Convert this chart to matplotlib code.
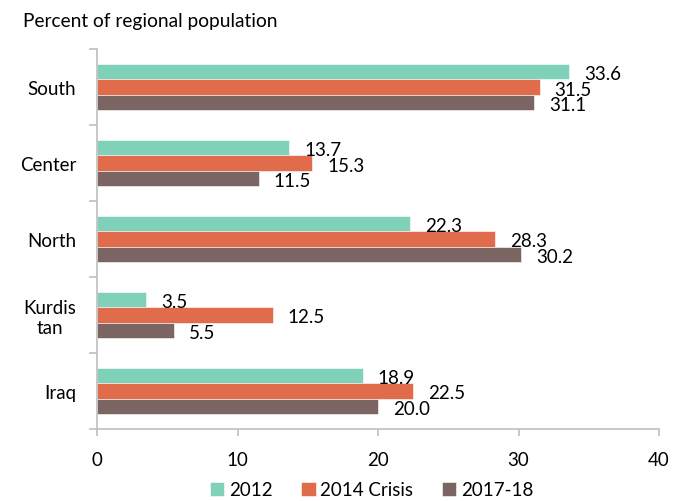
import matplotlib
matplotlib.use("Agg")
import matplotlib.pyplot as plt
import numpy as np

categories = ["South", "Center", "North", "Kurdis\ntan", "Iraq"]
series_names = ["2012", "2014 Crisis", "2017-18"]
v2012 = [33.6, 13.7, 22.3, 3.5, 18.9]
v2014 = [31.5, 15.3, 28.3, 12.5, 22.5]
v2017 = [31.1, 11.5, 30.2, 5.5, 20.0]
xticks = [0, 10, 20, 30, 40]
colors = ["#7FD1B9", "#E06C4C", "#7A6563"]

plt.rcParams['font.family'] = ['Lato', 'DejaVu Sans']
FS = 13.5

fig = plt.figure(figsize=(6.82, 5.02), dpi=100)
ax = fig.add_axes([97/682, 1-430/502, (659-97)/682, (430-50)/502])

y = np.arange(len(categories))
h = 0.205
offsets = [-h, 0, h]
for vals, name, c, off in zip([v2012, v2014, v2017], series_names, colors, offsets):
    ax.barh(y + off, vals, height=h, color=c, label=name, edgecolor='white', linewidth=0.4)
    for yy, v in zip(y + off, vals):
        ax.annotate(f"{v:.1f}", (v, yy), xytext=(15, -2), textcoords='offset pixels',
                    ha='left', va='center', fontsize=FS, color='#000000')

ax.set_xlim(0, 40)
ax.set_ylim(len(categories) - 0.5, -0.5)
ax.set_xticks(xticks)
ax.set_xticklabels([str(t) for t in xticks], fontsize=FS)
ax.set_yticks(np.arange(-0.5, len(categories), 1.0))
ax.set_yticklabels([])
ax.set_yticks(y, minor=True)
ax.set_yticklabels(categories, minor=True, fontsize=FS, multialignment='center')
ax.tick_params(axis='y', which='minor', length=0, pad=15)
ax.tick_params(axis='y', which='major', length=6, color='#BFBFBF', width=1.2)
ax.tick_params(axis='x', which='major', length=5, color='#BFBFBF', width=1.2, pad=11)

for s in ['top', 'right']:
    ax.spines[s].set_visible(False)
for s in ['left', 'bottom']:
    ax.spines[s].set_color('#BFBFBF')
    ax.spines[s].set_linewidth(1.2)

fig.text(23/682, 1-22/502, "Percent of regional population", fontsize=13.8, va='center', ha='left')

fig.legend(loc='center', bbox_to_anchor=(0.545, 1-491/502), ncol=3, frameon=False,
           fontsize=FS, handlelength=0.75, handleheight=0.75, handletextpad=0.25, columnspacing=1.55)

fig.savefig("out.png", dpi=100)
